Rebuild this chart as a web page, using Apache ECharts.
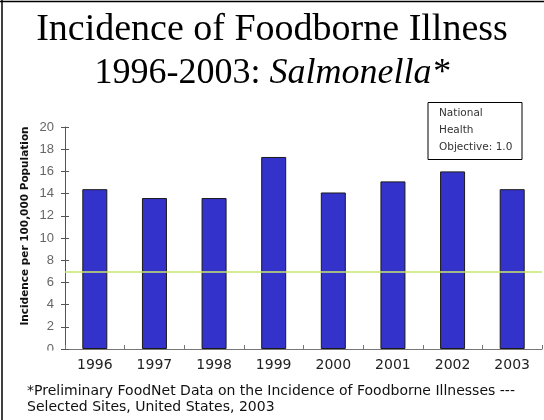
<!DOCTYPE html>
<html>
<head>
<meta charset="utf-8">
<script src="https://cdn.jsdelivr.net/npm/echarts@6/dist/echarts.min.js"></script>
<style>
html,body{margin:0;padding:0;background:#fff;}
#chart{width:544px;height:420px;}
</style>
</head>
<body>
<div id="chart"></div>
<script>
var years = ['1996','1997','1998','1999','2000','2001','2002','2003'];
var incidence = [14.4, 13.6, 13.6, 17.3, 14.1, 15.1, 16.0, 14.4];
var objectiveLine = 7.0;
var yTicks = [0, 2, 4, 6, 8, 10, 12, 14, 16, 18, 20];
var titleLine1 = 'Incidence of Foodborne Illness';
var titleLine2a = '1996-2003: ';
var titleLine2b = 'Salmonella*';
var yAxisTitle = 'Incidence per 100,000 Population';
var legendLines = ['National', 'Health', 'Objective: 1.0'];
var footnote = ['*Preliminary FoodNet Data on the Incidence of Foodborne Illnesses ---', 'Selected Sites, United States, 2003'];

var chart = echarts.init(document.getElementById('chart'));
var yMin = yTicks[0], yMax = yTicks[yTicks.length - 1], yInt = yTicks[1] - yTicks[0];

chart.setOption({
  animation: false,
  backgroundColor: '#fff',
  title: {
    left: 'center',
    top: 9,
    padding: 0,
    text: '{a|' + titleLine1 + '}\n{c|' + titleLine2a + '}{b|' + titleLine2b + '}',
    textStyle: {
      fontWeight: 'normal',
      rich: {
        a: {fontFamily: 'Liberation Serif', fontSize: 38, fontWeight: 'normal', color: '#000', lineHeight: 43},
        c: {fontFamily: 'Liberation Serif', fontSize: 36, fontWeight: 'normal', color: '#000', lineHeight: 43},
        b: {fontFamily: 'Liberation Serif', fontSize: 36, fontWeight: 'normal', fontStyle: 'italic', color: '#000', lineHeight: 43}
      }
    }
  },
  grid: {left: 65, right: 2, top: 127, bottom: 71, containLabel: false},
  xAxis: {
    type: 'category',
    data: years,
    axisLine: {lineStyle: {color: '#777', width: 1}},
    axisTick: {show: true, inside: true, length: 4, lineStyle: {color: '#777'}},
    axisLabel: {color: '#222', fontFamily: 'DejaVu Sans', fontSize: 14, margin: 9}
  },
  yAxis: [{
    type: 'value',
    min: yMin, max: yMax, interval: yInt,
    splitLine: {show: false},
    axisLine: {show: true, lineStyle: {color: '#555', width: 1}},
    axisTick: {show: true, length: 4, lineStyle: {color: '#555'}},
    axisLabel: {color: '#666', fontFamily: 'Liberation Sans', fontSize: 13, margin: 11}
  }, {
    type: 'value',
    position: 'left',
    min: yMin, max: yMax, interval: yInt,
    splitLine: {show: false},
    axisLine: {show: false},
    axisTick: {show: true, inside: true, length: 4, lineStyle: {color: '#555'}},
    axisLabel: {show: false}
  }],
  series: [{
    type: 'bar',
    yAxisIndex: 0,
    data: incidence,
    barWidth: 25,
    itemStyle: {color: '#3333cc', borderColor: '#1a1a1a', borderWidth: 1},
    markLine: {
      silent: true,
      symbol: 'none',
      label: {show: false},
      lineStyle: {color: '#c8e66e', width: 1.5, type: 'solid'},
      data: [{yAxis: objectiveLine}]
    }
  }],
  graphic: [
    {type: 'rect', left: 38, top: 350.5, shape: {width: 24, height: 8}, style: {fill: '#fff'}, z: 100},
    {type: 'line', shape: {x1: 2, y1: 0, x2: 2, y2: 420}, style: {stroke: '#000', lineWidth: 1.5}, z: 100},
    {type: 'line', shape: {x1: 0, y1: 1.5, x2: 544, y2: 1.5}, style: {stroke: '#000', lineWidth: 1.5}, z: 100},
    {type: 'text', x: 25, y: 226, rotation: Math.PI / 2,
      style: {text: yAxisTitle, fontFamily: 'DejaVu Sans', fontWeight: 'bold', fontSize: 10.5, fill: '#111', align: 'center', verticalAlign: 'middle'}},
    {type: 'rect', shape: {x: 428, y: 102.5, width: 94, height: 57}, style: {fill: '#fff', stroke: '#000', lineWidth: 1}, z: 50},
    {type: 'text', x: 439, y: 113, z: 51, style: {text: legendLines[0], fontFamily: 'DejaVu Sans', fontSize: 10.5, fill: '#333', verticalAlign: 'middle'}},
    {type: 'text', x: 439, y: 130, z: 51, style: {text: legendLines[1], fontFamily: 'DejaVu Sans', fontSize: 10.5, fill: '#333', verticalAlign: 'middle'}},
    {type: 'text', x: 439, y: 147, z: 51, style: {text: legendLines[2], fontFamily: 'DejaVu Sans', fontSize: 10.5, fill: '#333', verticalAlign: 'middle'}},
    {type: 'text', x: 27, y: 391, style: {text: footnote[0], fontFamily: 'DejaVu Sans', fontSize: 14, fill: '#111', verticalAlign: 'middle'}},
    {type: 'text', x: 27, y: 407, style: {text: footnote[1], fontFamily: 'DejaVu Sans', fontSize: 14, fill: '#111', verticalAlign: 'middle'}}
  ]
});
</script>
</body>
</html>
